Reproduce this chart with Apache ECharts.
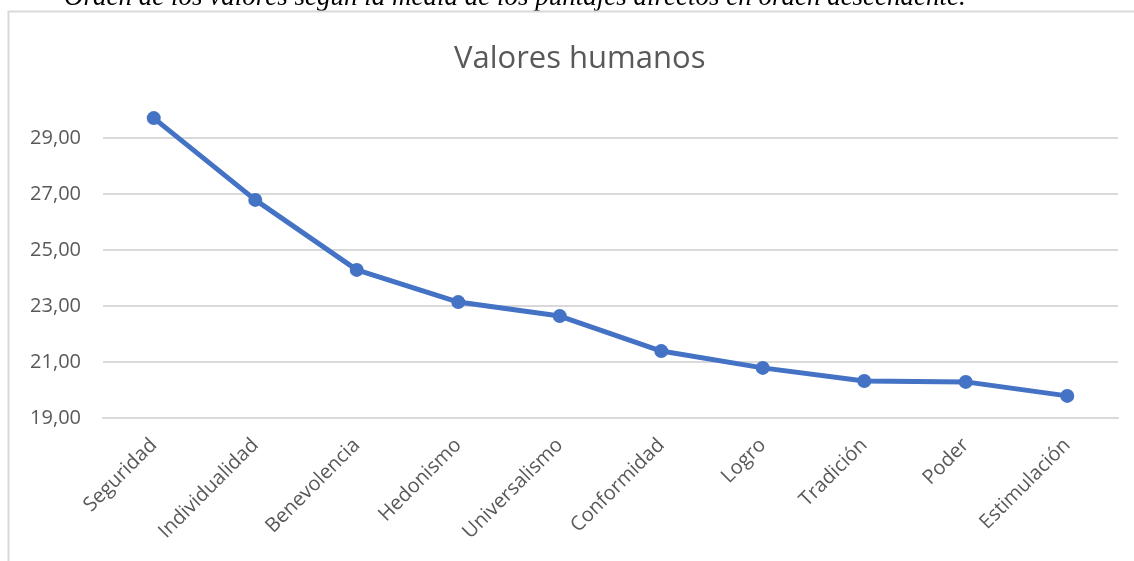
<!DOCTYPE html>
<html>
<head>
<meta charset="utf-8">
<script src="https://cdn.jsdelivr.net/npm/echarts@6/dist/echarts.min.js"></script>
<style>
  html, body { margin: 0; padding: 0; background: #fff; }
  #chart { width: 1134px; height: 561px; }
</style>
</head>
<body>
<div id="chart"></div>
<script>
var categories = ['Seguridad', 'Individualidad', 'Benevolencia', 'Hedonismo', 'Universalismo',
    'Conformidad', 'Logro', 'Tradición', 'Poder', 'Estimulación'];
var medias = [29.71, 26.79, 24.29, 23.14, 22.64, 21.39, 20.79, 20.32, 20.29, 19.79];
var yMin = 19;
var yMax = 30;

var chart = echarts.init(document.getElementById('chart'));
chart.setOption({
    animation: false,
    title: {
        text: 'Valores humanos',
        left: 449,
        top: 39,
        textStyle: {
            fontFamily: 'Open Sans',
            fontSize: 31,
            fontWeight: 'normal',
            color: '#595959'
        }
    },
    graphic: [{
        type: 'text',
        left: 64,
        top: -16,
        style: {
            text: 'Orden de los valores según la media de los puntajes directos en orden descendente.',
            font: 'italic 27px "Liberation Serif"',
            fill: '#000'
        }
    }, {
        type: 'rect',
        shape: { x: 8.5, y: 11.5, width: 1140, height: 600 },
        style: { fill: 'none', stroke: '#d9d9d9', lineWidth: 2 }
    }],
    grid: {
        left: 103,
        right: 16,
        top: 110,
        bottom: 143
    },
    xAxis: {
        type: 'category',
        data: categories,
        boundaryGap: true,
        axisLine: { show: true, lineStyle: { color: '#d9d9d9', width: 2 } },
        axisTick: { show: false },
        axisLabel: {
            rotate: 45,
            margin: 24,
            fontFamily: 'Open Sans',
            fontSize: 20,
            color: '#595959'
        }
    },
    yAxis: {
        type: 'value',
        min: yMin,
        max: yMax,
        interval: 1,
        axisLine: { show: false },
        axisTick: { show: false },
        axisLabel: {
            margin: 22,
            fontFamily: 'Open Sans',
            fontSize: 20,
            color: '#595959',
            formatter: function (v) {
                if (v % 2 === 0 || v >= yMax) return '';
                return v.toFixed(2).replace('.', ',');
            }
        },
        splitLine: {
            show: true,
            lineStyle: { color: ['#d9d9d9', 'rgba(0,0,0,0)'], width: 2 }
        }
    },
    series: [{
        type: 'line',
        data: medias,
        symbol: 'circle',
        symbolSize: 14,
        lineStyle: { color: '#4472c4', width: 5 },
        itemStyle: { color: '#4472c4' }
    }]
});
</script>
</body>
</html>
